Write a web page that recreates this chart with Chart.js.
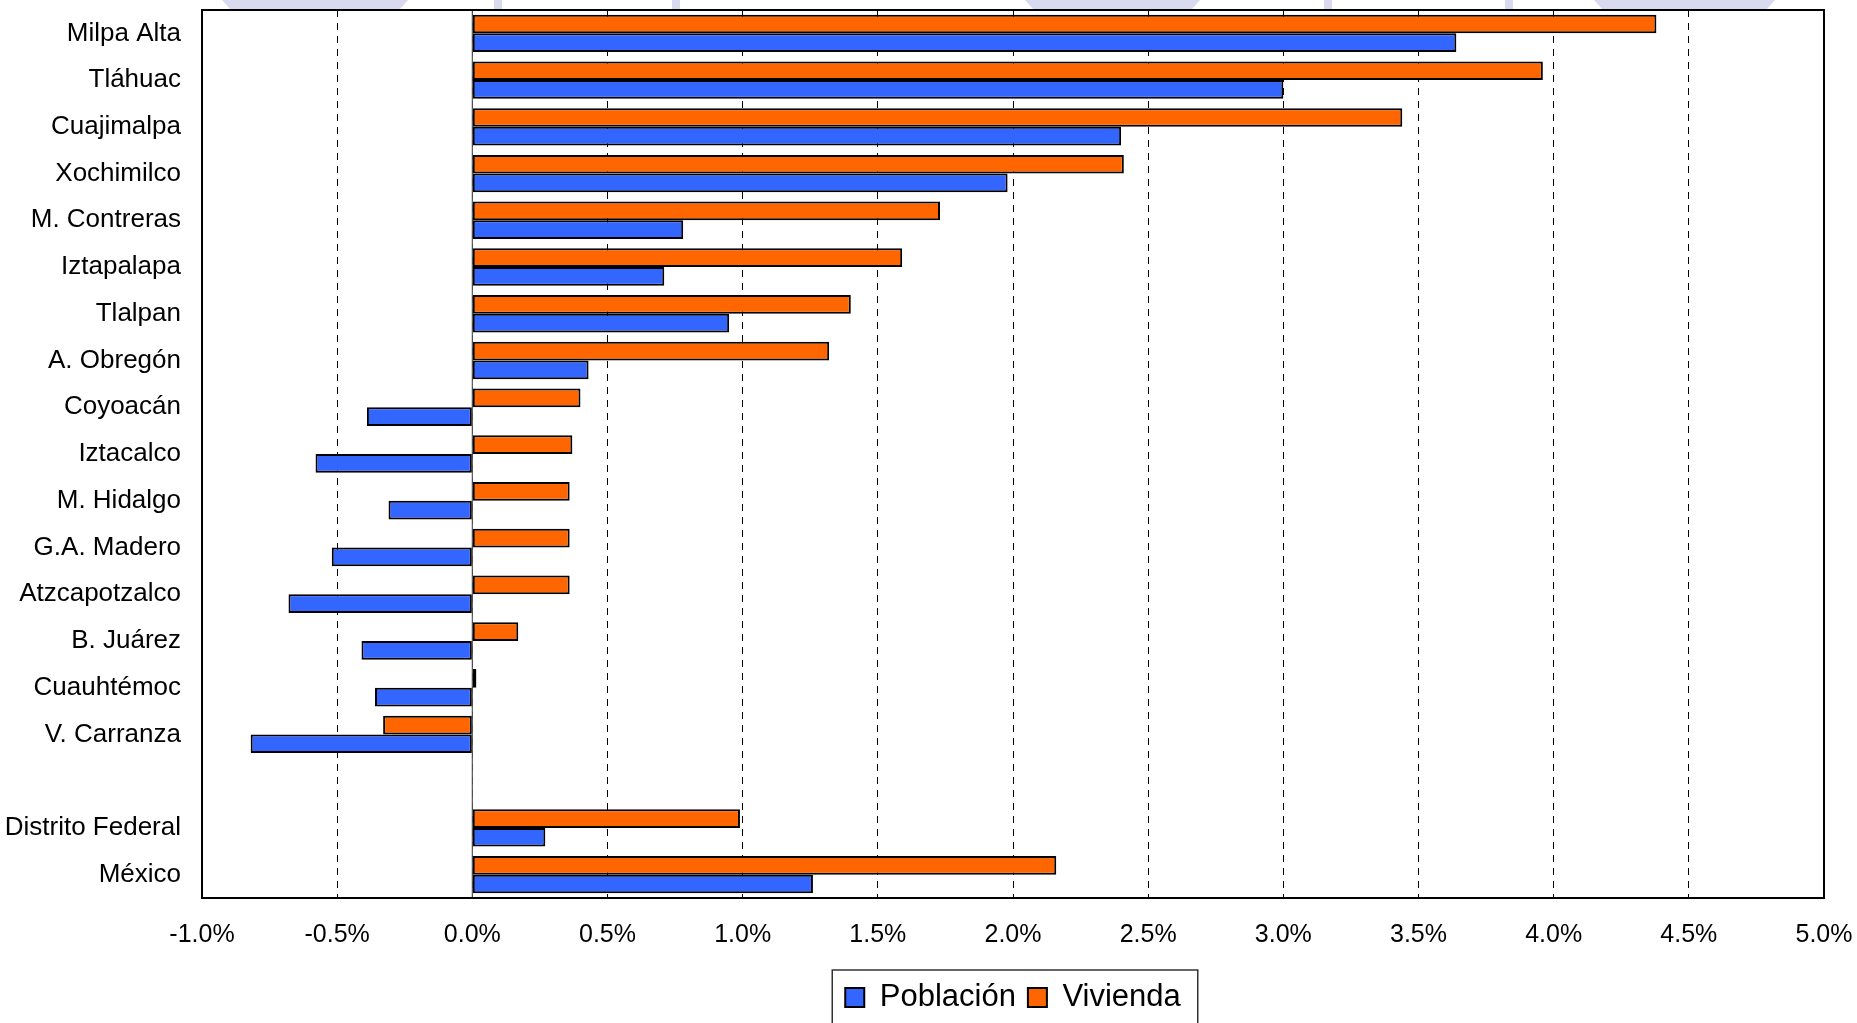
<!DOCTYPE html>
<html lang="es">
<head>
  <meta charset="UTF-8">
  <title>Crecimiento población y vivienda</title>
  <style>
    body {
      margin: 0;
      background: #ffffff;
      font-family: "Liberation Sans", Arial, sans-serif;
    }
    #wrap {
      width: 1857px;
      height: 1023px;
      position: relative;
    }
  </style>
  <script src="https://cdn.jsdelivr.net/npm/chart.js"></script>
</head>
<body>
  <div id="wrap">
    <canvas id="chart"></canvas>
  </div>

  <script>
    // categorias (la fila vacia separa delegaciones de los totales)
    const categories = [
      'Milpa Alta', 'Tláhuac', 'Cuajimalpa', 'Xochimilco', 'M. Contreras',
      'Iztapalapa', 'Tlalpan', 'A. Obregón', 'Coyoacán', 'Iztacalco',
      'M. Hidalgo', 'G.A. Madero', 'Atzcapotzalco', 'B. Juárez', 'Cuauhtémoc',
      'V. Carranza', '', 'Distrito Federal', 'México'
    ];

    // tasas de crecimiento (%)
    const poblacion = [
      3.64, 3.00, 2.40, 1.98, 0.78,
      0.71, 0.95, 0.43, -0.39, -0.58,
      -0.31, -0.52, -0.68, -0.41, -0.36,
      -0.82, null, 0.27, 1.26
    ];
    const vivienda = [
      4.38, 3.96, 3.44, 2.41, 1.73,
      1.59, 1.40, 1.32, 0.40, 0.37,
      0.36, 0.36, 0.36, 0.17, 0.015,
      -0.33, null, 0.99, 2.16
    ];

    const xMin = -1.0;
    const xMax = 5.0;
    const xStep = 0.5;

    const FONT = '"Liberation Sans", Arial, sans-serif';

    // restos del fondo de la diapositiva que asoman por encima del grafico
    const bgShapes = [
      [222, 408, 8], [1025, 1200, 8], [1594, 1775, 8]
    ];
    const bgStrokes = [498, 676, 1328, 1509];

    const framePlugin = {
      id: 'frame',
      beforeDraw(chart) {
        const ctx = chart.ctx;
        const h = chart.chartArea.top - 1;
        ctx.save();
        ctx.fillStyle = '#d9d9ef';
        bgShapes.forEach(([l, r, inset]) => {
          ctx.beginPath();
          ctx.moveTo(l, 0);
          ctx.lineTo(r, 0);
          ctx.lineTo(r - inset, h);
          ctx.lineTo(l + inset, h);
          ctx.closePath();
          ctx.fill();
        });
        bgStrokes.forEach(x => ctx.fillRect(x - 4, 0, 8, h));
        ctx.restore();
      },
      beforeDatasetsDraw(chart) {
        const { ctx, chartArea: a, scales } = chart;
        const x0 = scales.x.getPixelForValue(0);
        ctx.save();
        ctx.strokeStyle = '#555555';
        ctx.lineWidth = 1.2;
        ctx.beginPath();
        ctx.moveTo(x0, a.top);
        ctx.lineTo(x0, a.bottom);
        ctx.stroke();
        ctx.restore();
      },
      afterDraw(chart) {
        const { ctx, chartArea: a } = chart;
        ctx.save();
        ctx.strokeStyle = '#000000';
        ctx.lineWidth = 2;
        ctx.strokeRect(a.left, a.top, a.right - a.left, a.bottom - a.top);

        const boxes = chart.legend.legendHitBoxes;
        if (boxes && boxes.length) {
          const left = Math.min(...boxes.map(b => b.left)) - 13;
          const right = Math.max(...boxes.map(b => b.left + b.width)) + 17;
          const top = Math.min(...boxes.map(b => b.top)) - 12;
          ctx.strokeStyle = '#333333';
          ctx.lineWidth = 1.5;
          ctx.strokeRect(left, top, right - left, chart.height + 10 - top);
        }
        ctx.restore();
      }
    };

    new Chart(document.getElementById('chart'), {
      type: 'bar',
      data: {
        labels: categories,
        datasets: [
          {
            label: 'Vivienda',
            data: vivienda,
            backgroundColor: '#ff6600',
            borderColor: '#000000',
            borderWidth: 2,
            borderSkipped: false
          },
          {
            label: 'Población',
            data: poblacion,
            backgroundColor: '#3366ff',
            borderColor: '#000000',
            borderWidth: 2,
            borderSkipped: false
          }
        ]
      },
      options: {
        indexAxis: 'y',
        responsive: true,
        maintainAspectRatio: false,
        animation: false,
        datasets: {
          bar: {
            categoryPercentage: 0.8,
            barPercentage: 1.0
          }
        },
        layout: {
          padding: { left: 0, right: 33, top: 10, bottom: 0 }
        },
        scales: {
          x: {
            type: 'linear',
            min: xMin,
            max: xMax,
            ticks: {
              stepSize: xStep,
              color: '#000000',
              padding: 22,
              font: { family: FONT, size: 25 },
              callback: v => v.toFixed(1) + '%'
            },
            grid: {
              color: '#000000',
              lineWidth: 1,
              drawTicks: false
            },
            border: {
              display: false,
              dash: [7, 6]
            },
            afterFit(scale) {
              scale.height = 72;
              scale.paddingLeft = 0;
              scale.paddingRight = 0;
            }
          },
          y: {
            ticks: {
              color: '#000000',
              padding: 21,
              font: { family: FONT, size: 26 }
            },
            grid: { display: false, drawTicks: false },
            border: { display: false },
            afterFit(scale) {
              scale.width = 202;
              scale.paddingTop = 0;
              scale.paddingBottom = 0;
            }
          }
        },
        plugins: {
          legend: {
            position: 'bottom',
            fullSize: false,
            reverse: true,
            labels: {
              color: '#000000',
              boxWidth: 19,
              boxHeight: 19,
              padding: 12,
              font: { family: FONT, size: 31 }
            }
          },
          tooltip: { enabled: false }
        }
      },
      plugins: [framePlugin]
    });
  </script>
</body>
</html>
